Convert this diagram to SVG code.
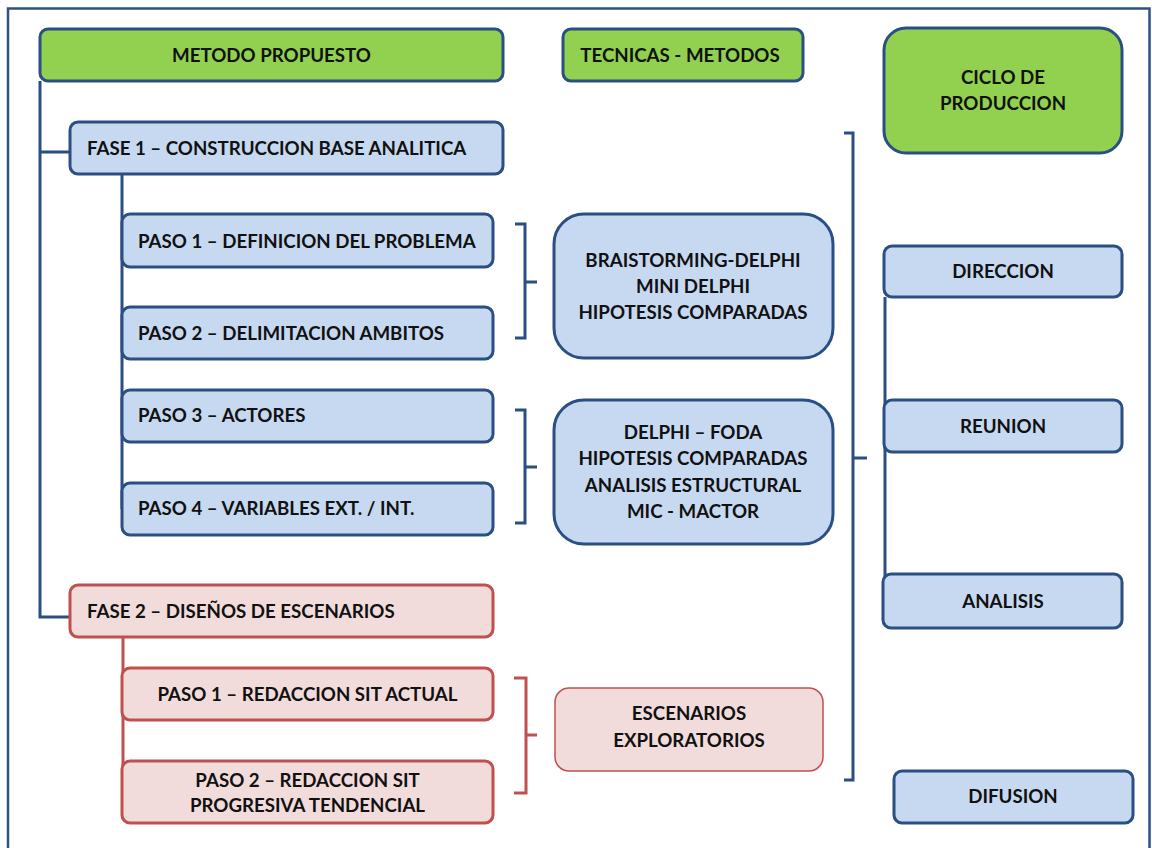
<svg xmlns="http://www.w3.org/2000/svg" width="1152" height="848" viewBox="0 0 1152 848">
<style>
.t{font-family:Lato,"Open Sans","Liberation Sans",sans-serif;font-weight:bold;font-size:18.7px;fill:#111}
.c{text-anchor:middle}
.g{fill:#92D050;stroke:#2A4F82;stroke-width:3}
.b{fill:#C6D9F1;stroke:#2A4F82;stroke-width:3}
.r{fill:#F2DCDB;stroke:#C0504D;stroke-width:3}
.r1{fill:#F2DCDB;stroke:#C0504D;stroke-width:1.5}
.lb{fill:none;stroke:#2A4F82;stroke-width:3}
.lr{fill:none;stroke:#C0504D;stroke-width:3}
</style>
<rect x="0" y="0" width="1152" height="848" fill="#fff"/>
<rect x="8" y="8.5" width="1141.5" height="860" fill="none" stroke="#2E5285" stroke-width="2.5"/>
<g id="connectors">
<path class="lb" d="M40 81 V617 H70 M40 152 H70"/>
<path class="lb" d="M122 174 V509"/>
<path class="lr" d="M123 637 V792"/>
<path class="lb" d="M515 224 H525 V338 H515 M525 282 H537"/>
<path class="lb" d="M515 410 H525 V523 H515 M525 467 H537"/>
<path class="lr" d="M514 678 H526 V793 H514 M526 735 H537"/>
<path class="lb" d="M844 133 H853 V780 H844 M853 458 H867"/>
<path class="lb" d="M885 297 V600"/>
</g>
<g id="metodo"><rect class="g" x="40" y="29" width="463" height="52" rx="8"/><text class="t c" x="271.5" y="62">METODO PROPUESTO</text></g>
<g id="tecnicas"><rect class="g" x="563" y="29" width="240" height="52" rx="8"/><text class="t c" x="680" y="62">TECNICAS - METODOS</text></g>
<g id="ciclo"><rect class="g" x="884" y="28" width="238" height="125" rx="22"/><text class="t c" x="1003" y="84">CICLO DE</text><text class="t c" x="1003" y="110">PRODUCCION</text></g>
<g id="fase1"><rect class="b" x="70" y="122" width="433" height="52" rx="8"/><text class="t" x="87" y="155">FASE 1 – CONSTRUCCION BASE ANALITICA</text></g>
<g id="f1p1"><rect class="b" x="122" y="214" width="371" height="53" rx="8"/><text class="t" x="138" y="248">PASO 1 – DEFINICION DEL PROBLEMA</text></g>
<g id="f1p2"><rect class="b" x="122" y="307" width="371" height="52" rx="8"/><text class="t" x="138" y="340">PASO 2 – DELIMITACION AMBITOS</text></g>
<g id="f1p3"><rect class="b" x="122" y="390" width="371" height="52" rx="8"/><text class="t" x="138" y="422">PASO 3 – ACTORES</text></g>
<g id="f1p4"><rect class="b" x="122" y="483" width="371" height="52" rx="8"/><text class="t" x="138" y="515">PASO 4 – VARIABLES EXT. / INT.</text></g>
<g id="tec1"><rect class="b" x="554" y="214" width="279" height="144" rx="30"/><text class="t c" x="693" y="267">BRAISTORMING-DELPHI</text><text class="t c" x="693" y="293">MINI DELPHI</text><text class="t c" x="693" y="319">HIPOTESIS COMPARADAS</text></g>
<g id="tec2"><rect class="b" x="554" y="400" width="279" height="144" rx="30"/><text class="t c" x="693" y="439">DELPHI – FODA</text><text class="t c" x="693" y="465">HIPOTESIS COMPARADAS</text><text class="t c" x="693" y="492">ANALISIS ESTRUCTURAL</text><text class="t c" x="693" y="518">MIC - MACTOR</text></g>
<g id="fase2"><rect class="r" x="70" y="585" width="423" height="52" rx="8"/><text class="t" x="87" y="618">FASE 2 – DISEÑOS DE ESCENARIOS</text></g>
<g id="f2p1"><rect class="r" x="122" y="668" width="371" height="52" rx="8"/><text class="t c" x="307.5" y="701">PASO 1 – REDACCION SIT ACTUAL</text></g>
<g id="f2p2"><rect class="r" x="122" y="761" width="371" height="62" rx="8"/><text class="t c" x="307.5" y="787">PASO 2 – REDACCION SIT</text><text class="t c" x="307.5" y="812">PROGRESIVA TENDENCIAL</text></g>
<g id="tec3"><rect class="r1" x="555" y="688" width="268" height="83" rx="14"/><text class="t c" x="689" y="720">ESCENARIOS</text><text class="t c" x="689" y="747">EXPLORATORIOS</text></g>
<g id="direccion"><rect class="b" x="884" y="246" width="238" height="51" rx="8"/><text class="t c" x="1003" y="278">DIRECCION</text></g>
<g id="reunion"><rect class="b" x="884" y="400" width="238" height="52" rx="8"/><text class="t c" x="1003" y="433">REUNION</text></g>
<g id="analisis"><rect class="b" x="883" y="574" width="239" height="54" rx="8"/><text class="t c" x="1003" y="608">ANALISIS</text></g>
<g id="difusion"><rect class="b" x="894" y="771" width="239" height="52" rx="8"/><text class="t c" x="1013" y="803">DIFUSION</text></g>
</svg>
